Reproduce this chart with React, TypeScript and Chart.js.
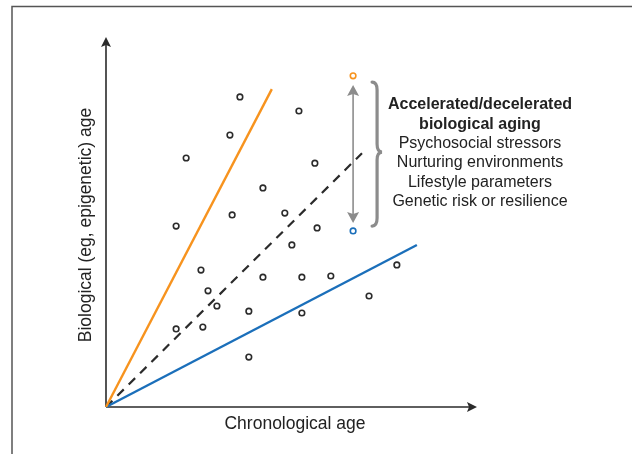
import React, { useEffect, useRef } from "react";
import { Chart, registerables } from "chart.js";

Chart.register(...registerables);

// Scatter of individuals: chronological age (x) vs biological age (y), arbitrary 0-100 units
const sampleX = [36.1, 52.0, 33.4, 21.6, 56.3, 42.3, 34.0, 48.2, 18.9, 56.9, 50.1, 25.6, 42.3, 52.8, 60.6, 78.4, 27.5, 29.9, 38.5, 52.8, 70.9, 18.9, 26.1, 38.5];
const sampleY = [83.8, 80.0, 73.5, 67.3, 65.9, 59.2, 51.9, 52.4, 48.9, 48.4, 43.8, 37.0, 35.1, 35.1, 35.4, 38.4, 31.4, 27.3, 25.9, 25.4, 30.0, 21.1, 21.6, 13.5];

// Reference trajectories (start, end)
const acceleratedX = [0, 44.7];
const acceleratedY = [0, 85.9];
const deceleratedX = [0, 83.8];
const deceleratedY = [0, 43.8];
const identityX = [0, 69.0];
const identityY = [0, 68.6];

// Highlighted individuals
const highX = [66.6];
const highY = [89.5];
const lowX = [66.6];
const lowY = [47.6];

// Double-headed arrow & brace range (data units)
const arrowX = 66.6;
const arrowRange = [87.0, 49.7];

const xTitle = "Chronological age";
const yTitle = "Biological (eg, epigenetic) age";
const noteBold = ["Accelerated/decelerated", "biological aging"];
const noteLines = ["Psychosocial stressors", "Nurturing environments", "Lifestyle parameters", "Genetic risk or resilience"];

const ORANGE = "#f7931e";
const BLUE = "#1b6fba";
const DARK = "#2b2b2b";
const GRAY = "#8c8c8c";

const pts = (xs: number[], ys: number[]) => xs.map((x, i) => ({ x, y: ys[i] }));

const decorPlugin = {
  id: "decor",
  beforeDatasetsDraw(chart: any) {
    const { ctx, chartArea } = chart;
    const { left, right, top, bottom } = chartArea;
    ctx.save();
    // frame
    ctx.strokeStyle = "#555";
    ctx.lineWidth = 1.5;
    ctx.beginPath();
    ctx.moveTo(12, 454);
    ctx.lineTo(12, 6.5);
    ctx.lineTo(632, 6.5);
    ctx.stroke();
    // axes
    ctx.strokeStyle = DARK;
    ctx.fillStyle = DARK;
    ctx.lineWidth = 1.6;
    ctx.beginPath();
    ctx.moveTo(left, bottom);
    ctx.lineTo(left, top + 6);
    ctx.moveTo(left, bottom);
    ctx.lineTo(right - 6, bottom);
    ctx.stroke();
    // arrowheads
    ctx.beginPath();
    ctx.moveTo(left, top);
    ctx.lineTo(left - 5, top + 10);
    ctx.lineTo(left, top + 8);
    ctx.lineTo(left + 5, top + 10);
    ctx.closePath();
    ctx.fill();
    ctx.beginPath();
    ctx.moveTo(right, bottom);
    ctx.lineTo(right - 10, bottom - 5);
    ctx.lineTo(right - 8, bottom);
    ctx.lineTo(right - 10, bottom + 5);
    ctx.closePath();
    ctx.fill();
    // axis titles
    ctx.fillStyle = "#222";
    ctx.font = "17.5px 'Liberation Sans', Arial, sans-serif";
    ctx.textAlign = "center";
    ctx.textBaseline = "middle";
    ctx.fillText(xTitle, 295, bottom + 17);
    ctx.save();
    ctx.translate(left - 20, 225);
    ctx.rotate(-Math.PI / 2);
    ctx.fillText(yTitle, 0, 0);
    ctx.restore();
    ctx.restore();
  },
  afterDatasetsDraw(chart: any) {
    const { ctx } = chart;
    const xs = chart.scales.x;
    const ys = chart.scales.y;
    const ax = xs.getPixelForValue(arrowX);
    const yTop = ys.getPixelForValue(arrowRange[0]);
    const yBot = ys.getPixelForValue(arrowRange[1]);
    ctx.save();
    ctx.strokeStyle = GRAY;
    ctx.fillStyle = GRAY;
    ctx.lineWidth = 1.6;
    ctx.beginPath();
    ctx.moveTo(ax, yTop + 6);
    ctx.lineTo(ax, yBot - 6);
    ctx.stroke();
    ctx.beginPath();
    ctx.moveTo(ax, yTop);
    ctx.lineTo(ax - 6, yTop + 11);
    ctx.lineTo(ax, yTop + 9);
    ctx.lineTo(ax + 6, yTop + 11);
    ctx.closePath();
    ctx.fill();
    ctx.beginPath();
    ctx.moveTo(ax, yBot);
    ctx.lineTo(ax - 6, yBot - 11);
    ctx.lineTo(ax, yBot - 9);
    ctx.lineTo(ax + 6, yBot - 11);
    ctx.closePath();
    ctx.fill();
    // brace
    const bx = ax + 19;
    const bTop = yTop - 3;
    const bBot = yBot + 3;
    const mid = (bTop + bBot) / 2 - 2;
    ctx.lineWidth = 3.2;
    ctx.lineCap = "round";
    ctx.beginPath();
    ctx.moveTo(bx, bTop);
    ctx.quadraticCurveTo(bx + 5, bTop, bx + 5, bTop + 8);
    ctx.lineTo(bx + 5, mid - 8);
    ctx.quadraticCurveTo(bx + 5, mid, bx + 10, mid);
    ctx.quadraticCurveTo(bx + 5, mid, bx + 5, mid + 8);
    ctx.lineTo(bx + 5, bBot - 8);
    ctx.quadraticCurveTo(bx + 5, bBot, bx, bBot);
    ctx.stroke();
    // note text
    const cx = 480;
    let y = 105;
    ctx.fillStyle = "#222";
    ctx.textAlign = "center";
    ctx.textBaseline = "middle";
    ctx.font = "bold 16px 'Liberation Sans', Arial, sans-serif";
    noteBold.forEach((t) => {
      ctx.fillText(t, cx, y);
      y += 19.3;
    });
    ctx.font = "16px 'Liberation Sans', Arial, sans-serif";
    noteLines.forEach((t) => {
      ctx.fillText(t, cx, y);
      y += 19.3;
    });
    ctx.restore();
  },
};

export default function App() {
  const ref = useRef<HTMLCanvasElement | null>(null);
  useEffect(() => {
    if (!ref.current) return;
    const lineDs = (xs: number[], ys: number[], color: string, width: number, dash: number[] = []) => ({
      type: "line" as const,
      data: pts(xs, ys),
      borderColor: color,
      borderWidth: width,
      borderDash: dash,
      pointRadius: 0,
      fill: false,
      tension: 0,
      clip: false as any,
    });
    const chart = new Chart(ref.current, {
      type: "scatter",
      data: {
        datasets: [
          {
            type: "scatter",
            data: pts(sampleX, sampleY),
            pointRadius: 2.8,
            pointBorderWidth: 1.6,
            borderColor: DARK,
            backgroundColor: "#fff",
            clip: false as any,
          },
          lineDs(acceleratedX, acceleratedY, ORANGE, 2.4),
          lineDs(deceleratedX, deceleratedY, BLUE, 2.4),
          lineDs(identityX, identityY, DARK, 2.2, [9, 7]),
          {
            type: "scatter",
            data: pts(highX, highY),
            pointRadius: 2.8,
            pointBorderWidth: 1.6,
            borderColor: ORANGE,
            backgroundColor: "#fff",
            clip: false as any,
          },
          {
            type: "scatter",
            data: pts(lowX, lowY),
            pointRadius: 2.8,
            pointBorderWidth: 1.6,
            borderColor: BLUE,
            backgroundColor: "#fff",
            clip: false as any,
          },
        ] as any,
      },
      options: {
        animation: false,
        responsive: false,
        maintainAspectRatio: false,
        devicePixelRatio: 1,
        layout: { padding: { left: 106, right: 155, top: 37, bottom: 47 } },
        scales: {
          x: { type: "linear", min: 0, max: 100, display: false },
          y: { type: "linear", min: 0, max: 100, display: false },
        },
        plugins: { legend: { display: false }, tooltip: { enabled: false } },
      },
      plugins: [decorPlugin],
    });
    return () => chart.destroy();
  }, []);
  return (
    <div style={{ position: "fixed", left: 0, top: 0, width: 632, height: 454, background: "#fff" }}>
      <canvas ref={ref} width={632} height={454} style={{ display: "block", width: 632, height: 454 }} />
    </div>
  );
}
